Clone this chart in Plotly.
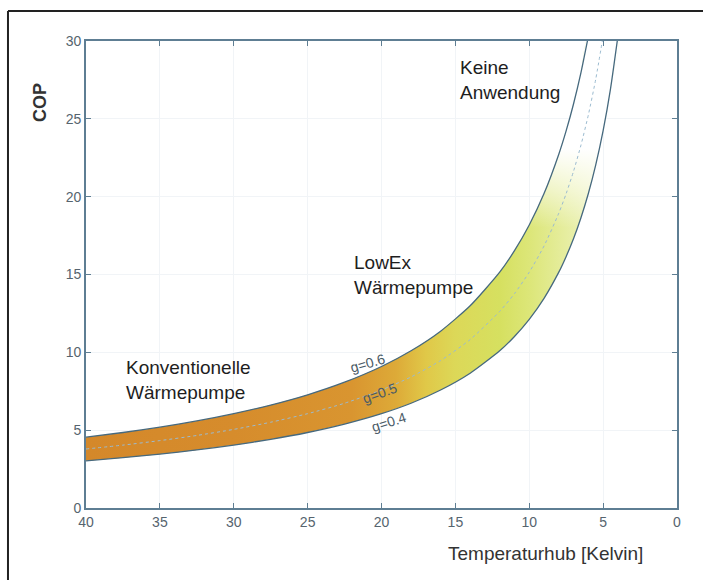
import plotly.graph_objects as go

# Temperaturhub (Kelvin) sample positions per curve
dT_g06 = [40, 37.5, 35, 32.5, 30, 27.5, 25, 22.5, 20, 18, 16, 14, 12, 11, 10, 9, 8, 7.5, 7, 6.5, 6]
cop_g06 = [4.55, 4.85, 5.19, 5.59, 6.06, 6.61, 7.27, 8.08, 9.09, 10.10, 11.36, 12.99, 15.15, 16.53,
           18.18, 20.20, 22.73, 24.24, 25.97, 27.97, 30.30]

dT_g05 = [40, 37.5, 35, 32.5, 30, 27.5, 25, 22.5, 20, 18, 16, 14, 12, 11, 10, 9, 8, 7.5, 7, 6.5, 6, 5.5, 5]
cop_g05 = [3.79, 4.04, 4.33, 4.66, 5.05, 5.51, 6.06, 6.73, 7.58, 8.42, 9.47, 10.82, 12.63, 13.77,
           15.15, 16.83, 18.94, 20.20, 21.64, 23.31, 25.25, 27.55, 30.30]

dT_g04 = [40, 37.5, 35, 32.5, 30, 27.5, 25, 22.5, 20, 18, 16, 14, 12, 11, 10, 9, 8, 7.5, 7, 6.5, 6, 5.5, 5, 4.5, 4]
cop_g04 = [3.03, 3.23, 3.46, 3.73, 4.04, 4.41, 4.85, 5.39, 6.06, 6.73, 7.58, 8.66, 10.10, 11.02,
           12.12, 13.47, 15.15, 16.16, 17.31, 18.65, 20.20, 22.04, 24.24, 26.93, 30.30]

x_ticks = [40, 35, 30, 25, 20, 15, 10, 5, 0]
y_ticks = [0, 5, 10, 15, 20, 25, 30]

line_col = "#46697E"
axis_col = "#5E7E93"
font_family = "Liberation Sans, Arial, sans-serif"

fig = go.Figure()

# band between g=0.4 and g=0.6
band_x = dT_g06 + dT_g04[::-1]
band_y = cop_g06 + cop_g04[::-1]
fig.add_trace(go.Scatter(
    x=band_x, y=band_y, mode="lines", fill="toself",
    line=dict(width=0, shape="spline", smoothing=0.6),
    fillgradient=dict(
        type="horizontal", start=4, stop=40,
        colorscale=[[0, "#F4F7D8"], [0.083, "#E8EFA8"], [0.167, "#DCE678"],
                    [0.222, "#D6E060"], [0.306, "#DCD858"], [0.361, "#E0C848"], [0.417, "#DDAA38"],
                    [0.5, "#D99530"], [0.722, "#D68C2C"], [1, "#D4882A"]]),
    hoverinfo="skip", showlegend=False))
# fade to white towards high COP
fig.add_trace(go.Scatter(
    x=band_x, y=band_y, mode="lines", fill="toself",
    line=dict(width=0, shape="spline", smoothing=0.6),
    fillgradient=dict(
        type="vertical", start=0, stop=30,
        colorscale=[[0, "rgba(255,255,255,0)"], [0.6, "rgba(255,255,255,0)"],
                    [0.68, "rgba(255,255,255,0.5)"], [0.77, "rgba(255,255,255,1)"],
                    [1, "rgba(255,255,255,1)"]]),
    hoverinfo="skip", showlegend=False))

fig.add_trace(go.Scatter(x=dT_g06, y=cop_g06, mode="lines",
                         line=dict(color=line_col, width=1.3, shape="spline", smoothing=0.6),
                         showlegend=False))
fig.add_trace(go.Scatter(x=dT_g05, y=cop_g05, mode="lines",
                         line=dict(color="#9BBBD0", width=1, dash="dot", shape="spline", smoothing=0.6),
                         showlegend=False))
fig.add_trace(go.Scatter(x=dT_g04, y=cop_g04, mode="lines",
                         line=dict(color=line_col, width=1.3, shape="spline", smoothing=0.6),
                         showlegend=False))

tf = dict(family=font_family, size=19, color="#1E1E1E")
fig.add_annotation(x=14.8, y=27.5, xref="x", yref="y", text="Keine<br>Anwendung",
                   showarrow=False, xanchor="left", yanchor="middle", align="left", font=tf)
fig.add_annotation(x=22.0, y=15.0, xref="x", yref="y", text="LowEx<br>Wärmepumpe",
                   showarrow=False, xanchor="left", yanchor="middle", align="left", font=tf)
fig.add_annotation(x=37.4, y=8.2, xref="x", yref="y", text="Konventionelle<br>Wärmepumpe",
                   showarrow=False, xanchor="left", yanchor="middle", align="left", font=tf)

gf = dict(family=font_family, size=14, color="#4A5A66")
fig.add_annotation(x=20.9, y=9.3, text="g=0.6", showarrow=False, textangle=-16, font=gf)
fig.add_annotation(x=20.1, y=7.4, text="g=0.5", showarrow=False, textangle=-20, font=gf)
fig.add_annotation(x=19.5, y=5.55, text="g=0.4", showarrow=False, textangle=-18, font=gf)

fig.add_annotation(x=-0.078, y=0.869, xref="paper", yref="paper", text="<b>COP</b>",
                   textangle=-90, showarrow=False, xanchor="center", yanchor="middle",
                   font=dict(family=font_family, size=18, color="#333333"))
fig.add_annotation(x=0.946, y=-0.098, xref="paper", yref="paper", text="Temperaturhub [Kelvin]",
                   showarrow=False, xanchor="right", yanchor="middle",
                   font=dict(family=font_family, size=19, color="#333333"))

# outer frame (left and top edges)
fig.add_shape(type="line", xref="paper", yref="paper", x0=-0.132, x1=-0.132, y0=1.064, y1=-0.2,
              line=dict(color="#222222", width=2))
fig.add_shape(type="line", xref="paper", yref="paper", x0=-0.132, x1=1.1, y0=1.064, y1=1.064,
              line=dict(color="#222222", width=2))

axis_common = dict(showline=True, linecolor=axis_col, linewidth=1.6, mirror="ticks",
                   ticks="inside", ticklen=5, tickcolor=axis_col, showgrid=True,
                   gridcolor="#F1F4F7", gridwidth=1, zeroline=False,
                   tickfont=dict(family=font_family, size=14, color="#56646E"))

fig.update_xaxes(range=[40, 0], tickvals=x_ticks, ticktext=[str(v) for v in x_ticks], **axis_common)
fig.update_yaxes(range=[0, 30], tickvals=y_ticks, ticktext=[str(v) for v in y_ticks], **axis_common)

fig.update_layout(width=703, height=580, margin=dict(l=86, r=26, t=41, b=72),
                  paper_bgcolor="white", plot_bgcolor="white", showlegend=False)

fig.write_html("out.html")
